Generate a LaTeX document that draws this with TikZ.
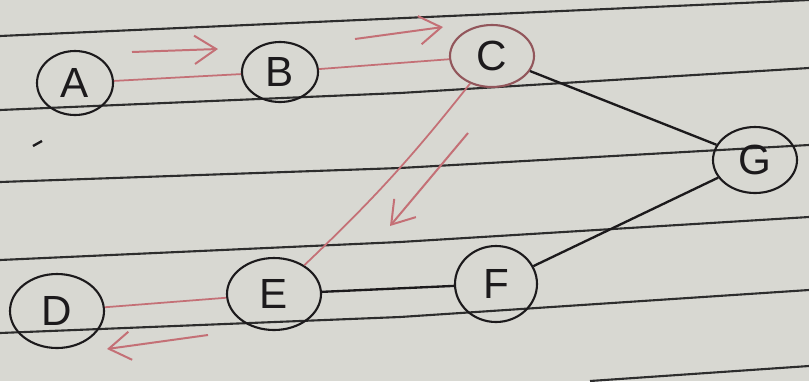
\documentclass[tikz,border=0pt]{standalone}
\usepackage{fontspec}
\setsansfont{Liberation Sans}
\usetikzlibrary{arrows.meta,shapes.geometric}
\definecolor{paper}{RGB}{216,216,210}
\definecolor{rule}{RGB}{45,45,45}
\definecolor{pen}{RGB}{196,112,118}
\definecolor{ink}{RGB}{28,26,28}
\newcommand{\px}{0.03cm}
\tikzset{
  vtx/.style={draw=ink,line width=1.8pt,ellipse,inner sep=0pt,text=ink,
    font=\sffamily\fontsize{36}{36}\selectfont},
  redge/.style={draw=pen,line width=1.5pt},
  bedge/.style={draw=ink,line width=2pt},
  hint/.style={draw=pen,line width=1.7pt,-{Straight Barb[length=6.5mm,width=8.5mm]}},
  ruled/.style={draw=rule,line width=1.8pt}
}

\begin{document}
\begin{tikzpicture}[x=\px,y=-\px]
  \fill[paper] (0,0) rectangle (809,381);
  \useasboundingbox (0,0) rectangle (809,381);
  % paper lines
  \draw[ruled] (0,36) -- (809,0);
  \draw[ruled] (0,110) -- (400,93) -- (809,68);
  \draw[ruled] (0,182) -- (400,168) -- (809,145);
  \draw[ruled] (0,260) -- (400,242) -- (809,217);
  \draw[ruled] (0,333) -- (400,317) -- (809,290);
  \draw[ruled] (590,381) -- (809,366);
  \draw[ink,line width=2pt] (33,146) -- (42,141);
  % vertices
  \node[vtx,minimum width=76*\px,minimum height=64*\px] (A) at (75,83) {A};
  \node[vtx,minimum width=76*\px,minimum height=60*\px] (B) at (280,72) {B};
  \node[vtx,draw=pen!70!ink,minimum width=84*\px,minimum height=62*\px] (C) at (492,56) {C};
  \node[vtx,minimum width=84*\px,minimum height=66*\px] (G) at (755,160) {G};
  \node[vtx,minimum width=82*\px,minimum height=76*\px] (F) at (496,284) {F};
  \node[vtx,minimum width=94*\px,minimum height=72*\px] (E) at (274,294) {E};
  \node[vtx,minimum width=94*\px,minimum height=74*\px] (D) at (57,311) {D};
  % edges
  \draw[redge] (A) -- (B);
  \draw[redge] (B) -- (C);
  \draw[redge] (C) to[bend left=4] (E);
  \draw[redge] (E) -- (D);
  \draw[bedge] (C) -- (G);
  \draw[bedge] (G) -- (F);
  \draw[bedge] (F) -- (E);
  % direction marks
  \coordinate (ab1) at (132,52);  \coordinate (ab2) at (218,49);
  \coordinate (bc1) at (355,39);  \coordinate (bc2) at (443,27);
  \coordinate (ce1) at (468,133); \coordinate (ce2) at (390,226);
  \coordinate (ed1) at (208,335); \coordinate (ed2) at (107,349);
  \draw[hint] (ab1) -- (ab2);
  \draw[hint] (bc1) -- (bc2);
  \draw[hint] (ce1) -- (ce2);
  \draw[hint] (ed1) -- (ed2);
\end{tikzpicture}
\end{document}
